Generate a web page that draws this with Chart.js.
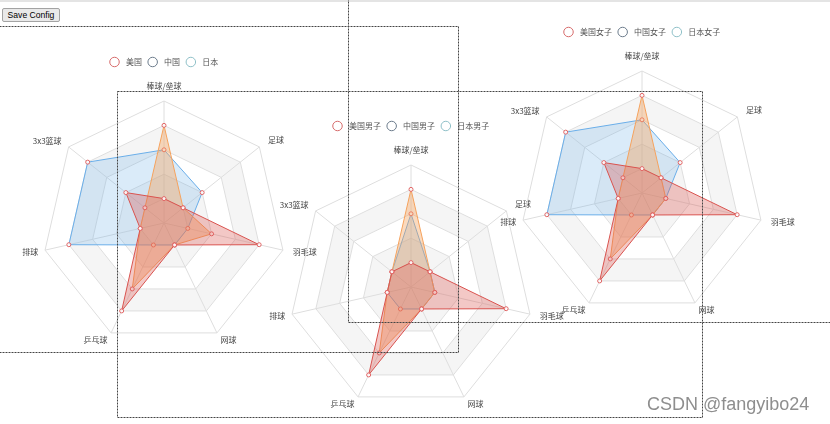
<!DOCTYPE html>
<html><head><meta charset="utf-8">
<script src="https://cdn.jsdelivr.net/npm/chart.js@4/dist/chart.umd.min.js"></script>
<style>
html,body{margin:0;padding:0;background:#fff;width:830px;height:424px;overflow:hidden;position:relative;font-family:"Noto Sans CJK SC",sans-serif}
#topline{position:absolute;left:0;top:0;width:830px;height:2px;background:#e4e4e4}
#btn{position:absolute;left:2px;top:8px;width:58px;height:14px;box-sizing:border-box;padding:0;margin:0;border:1px solid #a3a3a3;border-radius:2px;background:#e9e9e9;font:8.6px/12px "Liberation Sans",Arial,sans-serif;color:#000;text-align:center}
canvas{position:absolute}
#wm{position:absolute;left:647px;top:395px;font:18px/18px "Liberation Sans",Arial,sans-serif;color:#8e8e8e;text-shadow:0 0 1px #fff;white-space:nowrap}
#frames{position:absolute;left:0;top:0;pointer-events:none}
</style></head><body>
<div id="topline"></div>
<button id="btn">Save Config</button>
<canvas id="c1" width="360" height="302" style="left:-16px;top:52px"></canvas>
<canvas id="c2" width="360" height="302" style="left:231px;top:116px"></canvas>
<canvas id="c3" width="360" height="302" style="left:462px;top:22px"></canvas>
<svg id="frames" width="830" height="424">
  <g fill="none" stroke="#444" stroke-width="1" stroke-dasharray="2,1">
    <rect x="-0.5" y="26.5" width="459" height="326"/>
    <rect x="117.5" y="91.5" width="585" height="326"/>
    <rect x="348.5" y="-5.5" width="500" height="328"/>
  </g>
</svg>
<div id="wm">CSDN @fangyibo24</div>
<script>
const indicators = ['棒球/垒球','足球','羽毛球','网球','乒乓球','排球','3x3篮球'];
const scaleMax = 5;
const tickStep = 1;

const leftNames = ['美国','中国','日本'];
const leftUSA = [1,1,4,1,4,1,2];
const leftCHN = [4,1,2,1,3,1,1];
const leftJPN = [3,2,1,1,1,4,4];

const midNames = ['美国男子','中国男子','日本男子'];
const midUSA = [1,1,4,1,4,1,1];
const midCHN = [4,1,1,1,3,1,1];
const midJPN = [3,1,1,1,1,1,1];

const rightNames = ['美国女子','中国女子','日本女子'];
const rightUSA = [1,1,4,1,4,1,2];
const rightCHN = [4,1,1,1,3,1,1];
const rightJPN = [3,2,1,1,1,4,4];

const legendColors = ['#d66a6a','#6b7b8b','#8fc0c8'];
const lineColors = ['#d9534f','#f5a25d','#6aaee9'];
const fillColors = ['rgba(217,83,79,0.32)','rgba(245,162,93,0.4)','rgba(106,174,233,0.25)'];
const labelPad = [13,11,10,8,8,7,9];

Chart.defaults.font.family = '"Noto Sans CJK SC", sans-serif';

const splitAreaPlugin = {
  id: 'splitArea',
  beforeDraw(chart, args, opts) {
    const s = chart.scales.r;
    const n = chart.data.labels.length;
    const ctx = chart.ctx;
    ctx.save();
    let band = 0;
    for (let k = 0; k < scaleMax; k += tickStep, band++) {
      const rIn = s.getDistanceFromCenterForValue(k);
      const rOut = s.getDistanceFromCenterForValue(k + tickStep);
      ctx.beginPath();
      for (let i = 0; i < n; i++) { const p = s.getPointPosition(i, rOut); if (i) ctx.lineTo(p.x, p.y); else ctx.moveTo(p.x, p.y); }
      ctx.closePath();
      if (rIn > 0) {
        for (let i = 0; i < n; i++) { const p = s.getPointPosition(i, rIn); if (i) ctx.lineTo(p.x, p.y); else ctx.moveTo(p.x, p.y); }
        ctx.closePath();
      }
      ctx.fillStyle = opts.colors[band % 2];
      ctx.fill('evenodd');
    }
    ctx.restore();
  }
};

function makeRadar(id, names, series) {
  new Chart(document.getElementById(id), {
    type: 'radar',
    data: {
      labels: indicators,
      datasets: series.map((vals, i) => ({
        label: names[i],
        data: vals,
        borderColor: lineColors[i],
        backgroundColor: fillColors[i],
        borderWidth: 1,
        fill: true,
        pointRadius: 2,
        pointBorderWidth: 1,
        pointBorderColor: '#e06464',
        pointBackgroundColor: 'rgba(255,255,255,0.9)'
      }))
    },
    options: {
      responsive: false,
      animation: false,
      devicePixelRatio: 1,
      layout: { padding: 0 },
      scales: {
        r: {
          min: 0, max: scaleMax,
          ticks: { display: false, stepSize: tickStep },
          grid: { color: '#dedede', lineWidth: 1 },
          angleLines: { color: '#dedede', lineWidth: 1 },
          pointLabels: {
            color: '#444',
            padding: (c) => labelPad[c.index],
            font: (c) => ({ family: '"Noto Sans CJK SC", sans-serif', size: 8, lineHeight: c.index === 0 ? '4px' : 0.01 })
          }
        }
      },
      plugins: {
        tooltip: { enabled: false },
        splitArea: { colors: ['rgba(255,255,255,0)', 'rgba(0,0,0,0.04)'] },
        legend: {
          position: 'top',
          labels: {
            usePointStyle: true,
            boxHeight: 6.7,
            pointStyleWidth: 9.5,
            padding: 6,
            color: '#555',
            font: { size: 8, family: '"Noto Sans CJK SC", sans-serif' },
            generateLabels: (chart) => chart.data.datasets.map((d, i) => ({
              text: '\u2004' + d.label,
              fillStyle: 'rgba(255,255,255,0)',
              strokeStyle: legendColors[i],
              lineWidth: 1,
              pointStyle: 'circle',
              hidden: false,
              datasetIndex: i,
              fontColor: '#555'
            }))
          }
        }
      }
    },
    plugins: [splitAreaPlugin]
  });
}

makeRadar('c1', leftNames, [leftUSA, leftCHN, leftJPN]);
makeRadar('c2', midNames, [midUSA, midCHN, midJPN]);
makeRadar('c3', rightNames, [rightUSA, rightCHN, rightJPN]);
</script>
</body></html>
